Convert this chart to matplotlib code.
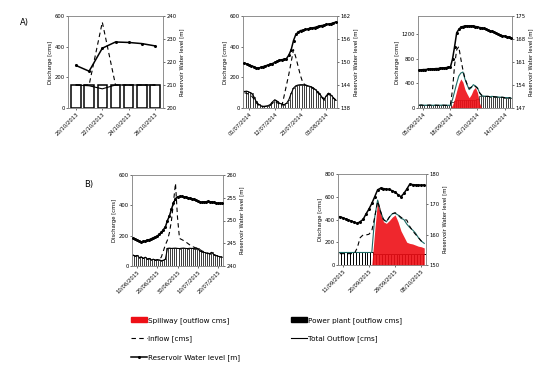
import numpy as np
import matplotlib
matplotlib.use("Agg")
import matplotlib.pyplot as plt
from matplotlib.patches import Patch
from matplotlib.lines import Line2D

# ---- panel A1 (daily, 7 days) ----
a1_labels = ["20/10/2013", "22/10/2013", "24/10/2013", "26/10/2013"]
a1_ticks = [0, 2, 4, 6]
a1_power = [150, 150, 150, 150, 150, 150, 150]
a1_total = [150, 145, 125, 150, 150, 150, 150]
a1_inflow = [150, 150, 560, 150, 150, 150, 150]
a1_level = [218.5, 216.0, 226.0, 228.7, 228.5, 228.0, 227.0]

# ---- panel A2 ----
a2_labels = ["01/07/2014", "12/07/2014", "23/07/2014", "03/08/2014"]
a2_ticks = [2, 13, 24, 35]
a2_power = [108, 110, 104, 97, 75, 43, 25, 15, 11, 12, 15, 22, 40, 54, 45, 32, 25, 22, 30, 54,
            95, 130, 145, 150, 152, 152, 150, 146, 141, 135, 125, 110, 97, 75, 54, 80, 97, 85, 68, 54]
a2_total = [108, 110, 104, 97, 75, 43, 25, 15, 11, 12, 15, 22, 40, 54, 45, 32, 25, 22, 30, 54,
            95, 130, 145, 150, 152, 152, 150, 146, 141, 135, 125, 110, 97, 75, 54, 80, 97, 85, 68, 54]
a2_inflow = [100, 95, 90, 80, 60, 35, 20, 12, 8, 10, 12, 18, 30, 45, 35, 25, 11, 80, 150, 220,
             300, 380, 330, 270, 210, 165, 150, 145, 140, 130, 120, 105, 90, 70, 55, 75, 90, 80, 65, 50]
a2_level = [149.7, 149.5, 149.3, 149.0, 148.8, 148.5, 148.4, 148.6, 148.8, 149.0, 149.2, 149.4,
            149.6, 149.9, 150.2, 150.5, 150.6, 150.7, 150.9, 151.8, 153.2, 155.6, 157.2, 157.8,
            158.2, 158.3, 158.5, 158.6, 158.8, 158.9, 159.0, 159.2, 159.4, 159.5, 159.6, 159.8,
            159.9, 160.0, 160.2, 160.4]

# ---- panel A3 ----
a3_labels = ["05/09/2014", "18/09/2014", "01/10/2014", "14/10/2014"]
a3_ticks = [2, 15, 28, 41]
a3_power = [45, 48, 44, 46, 45, 47, 44, 45, 46, 44, 45, 47, 45, 44, 46, 45, 90, 120, 130, 130,
            130, 130, 130, 130, 130, 130, 130, 130, 150, 190, 195, 195, 190, 190, 185, 190, 185,
            180, 180, 175, 175, 170, 170, 168, 165]
a3_spill = [0, 0, 0, 0, 0, 0, 0, 0, 0, 0, 0, 0, 0, 0, 0, 0, 50, 150, 280, 400, 474, 420, 300, 230,
            167, 220, 300, 335, 250, 80, 0, 0, 0, 0, 0, 0, 0, 0, 0, 0, 0, 0, 0, 0, 0]
a3_total = [45, 48, 44, 46, 45, 47, 44, 45, 46, 44, 45, 47, 45, 44, 46, 45, 140, 270, 400, 520,
            570, 586, 470, 380, 300, 330, 380, 360, 330, 250, 200, 195, 190, 190, 185, 190, 185,
            180, 180, 175, 175, 170, 170, 168, 165]
a3_inflow = [45, 48, 44, 46, 45, 47, 44, 45, 46, 44, 45, 47, 45, 44, 46, 60, 300, 700, 950, 1000,
             800, 620, 480, 390, 320, 340, 370, 350, 320, 250, 210, 195, 190, 190, 185, 190, 185,
             180, 180, 175, 175, 170, 170, 168, 165]
a3_level = [158.5, 158.6, 158.7, 158.7, 158.8, 158.8, 158.9, 158.9, 159.0, 159.0, 159.1, 159.2,
            159.2, 159.3, 159.4, 159.5, 161.9, 165.7, 169.9, 170.9, 171.6, 171.8, 172.0, 172.0,
            172.0, 172.0, 172.0, 171.8, 171.7, 171.5, 171.4, 171.2, 171.0, 170.8, 170.5, 170.3,
            170.0, 169.7, 169.4, 169.2, 169.0, 168.9, 168.7, 168.6, 168.4]

# ---- panel B1 ----
b1_labels = ["10/06/2015", "20/06/2015", "30/06/2015", "10/07/2015", "20/07/2015"]
b1_ticks = [2, 12, 22, 32, 42]
b1_power = [72, 65, 70, 55, 60, 50, 58, 45, 50, 40, 45, 38, 42, 40, 35, 38, 45, 116, 118, 116,
            117, 118, 116, 115, 117, 118, 116, 115, 117, 116, 115, 114, 116, 100, 95, 90, 88, 83,
            80, 90, 75, 70, 65, 62, 60]
b1_total = [72, 65, 70, 55, 60, 50, 58, 45, 50, 40, 45, 38, 42, 40, 35, 38, 45, 116, 118, 116,
            117, 118, 116, 115, 117, 118, 116, 115, 117, 116, 115, 114, 116, 100, 95, 90, 88, 83,
            80, 90, 75, 70, 65, 62, 60]
b1_inflow = [70, 65, 68, 55, 58, 50, 55, 45, 48, 40, 44, 38, 42, 40, 60, 100, 140, 171, 220, 300,
             420, 545, 320, 182, 175, 168, 160, 150, 140, 130, 125, 120, 118, 110, 100, 95, 90, 85,
             82, 88, 76, 70, 66, 62, 60]
b1_level = [246.1, 245.9, 245.7, 245.5, 245.3, 245.4, 245.5, 245.7, 245.8, 246.0, 246.2, 246.4,
            246.6, 247.0, 247.4, 248.0, 248.6, 250.0, 251.0, 252.5, 253.8, 254.8, 255.2, 255.3,
            255.3, 255.2, 255.2, 255.0, 254.9, 254.8, 254.7, 254.4, 254.2, 254.1, 254.0, 254.1,
            254.1, 254.2, 254.1, 254.1, 254.0, 253.9, 253.8, 253.8, 253.8]

# ---- panel B2 ----
b2_labels = ["11/09/2015", "20/09/2015", "29/09/2015", "08/10/2015"]
b2_ticks = [1, 10, 19, 28]
b2_power = [110, 110, 110, 110, 110, 110, 110, 110, 110, 110, 110, 110, 100, 100, 100, 100, 100,
            100, 100, 100, 100, 100, 100, 100, 100, 100, 100, 100, 100, 100]
b2_spill = [0, 0, 0, 0, 0, 0, 0, 0, 0, 0, 0, 0, 300, 571, 480, 380, 366, 390, 420, 440, 380, 300,
            250, 200, 190, 185, 175, 165, 160, 150]
b2_total = [110, 110, 110, 110, 110, 110, 110, 110, 110, 110, 110, 110, 420, 571, 470, 400, 380,
            420, 450, 454, 440, 410, 400, 360, 330, 308, 280, 240, 210, 190]
b2_inflow = [100, 100, 100, 100, 100, 100, 150, 240, 264, 264, 270, 300, 420, 560, 470, 400, 380,
             420, 450, 460, 440, 420, 400, 395, 340, 300, 270, 240, 210, 190]
b2_level = [165.9, 165.6, 165.2, 164.8, 164.5, 164.1, 163.7, 164.3, 165.0, 166.8, 168.4, 170.3,
            172.5, 174.8, 175.3, 175.2, 175.0, 174.9, 174.5, 174.0, 173.2, 172.5, 173.6, 175.0,
            176.6, 176.5, 176.4, 176.4, 176.3, 176.4]

RED = "#ee0f16"
TEAL = "#1d6b66"
FS = 3.8


def draw_panel(rect, power, total, inflow, level, spill, yl, ytl, yr, ytr, ticks, labels,
               bar_w=1.0, bar_lw=0.45, total_color="black"):
    ax = fig.add_axes(rect)
    x = np.arange(len(power))
    ax.bar(x, power, width=bar_w, color="white", edgecolor="black", linewidth=bar_lw, zorder=2)
    if spill is not None:
        ax.fill_between(x, 0, spill, color=RED, alpha=0.9, linewidth=0, zorder=3)
    ax.plot(x, total, color=total_color, lw=0.8, zorder=4)
    ax.plot(x, inflow, color="black", lw=0.8, ls=(0, (4, 3)), zorder=4)
    ax.set_ylim(*yl)
    ax.set_yticks(ytl)
    ax.set_xlim(-0.6, len(power) - 0.4)
    ax.set_xticks(ticks)
    ax.set_xticklabels(labels, rotation=45, ha="right", rotation_mode="anchor", fontsize=FS)
    ax.tick_params(axis="y", labelsize=FS, length=1.5, width=0.4, pad=1)
    ax.tick_params(axis="x", length=1.5, width=0.4, pad=1)
    ax.set_ylabel("Discharge [cms]", fontsize=FS, labelpad=1)
    for s in ax.spines.values():
        s.set_linewidth(0.5)
        s.set_color("#888888")
    ax2 = ax.twinx()
    ax2.plot(x, level, color="black", lw=1.1, marker="o", ms=1.2, zorder=5)
    ax2.set_ylim(*yr)
    ax2.set_yticks(ytr)
    ax2.tick_params(axis="y", labelsize=FS, length=1.5, width=0.4, pad=1)
    ax2.set_ylabel("Reservoir Water level [m]", fontsize=FS, labelpad=2)
    for s in ax2.spines.values():
        s.set_linewidth(0.5)
        s.set_color("#888888")
    return ax


W, H = 545, 372
fig = plt.figure(figsize=(W / 100, H / 100), dpi=100)


def px(x0, y0, x1, y1):
    return [x0 / W, 1 - y1 / H, (x1 - x0) / W, (y1 - y0) / H]


draw_panel(px(68, 16, 163, 108), a1_power, a1_total, a1_inflow, a1_level, None,
           (0, 600), [0, 200, 400, 600], (200, 240), [200, 210, 220, 230, 240],
           a1_ticks, a1_labels, bar_w=0.7, bar_lw=1.1)
draw_panel(px(243, 16, 337, 108), a2_power, a2_total, a2_inflow, a2_level, None,
           (0, 600), [0, 200, 400, 600], (138, 162), [138, 144, 150, 156, 162],
           a2_ticks, a2_labels)
draw_panel(px(418, 16, 512, 108), a3_power, a3_total, a3_inflow, a3_level, a3_spill,
           (0, 1500), [0, 400, 800, 1200], (147, 175), [147, 154, 161, 168, 175],
           a3_ticks, a3_labels, total_color=TEAL)
draw_panel(px(132, 175, 223, 266), b1_power, b1_total, b1_inflow, b1_level, None,
           (0, 600), [0, 200, 400, 600], (240, 260), [240, 245, 250, 255, 260],
           b1_ticks, b1_labels)
draw_panel(px(338, 174, 426, 265), b2_power, b2_total, b2_inflow, b2_level, b2_spill,
           (0, 800), [0, 200, 400, 600, 800], (150, 180), [150, 160, 170, 180],
           b2_ticks, b2_labels, bar_lw=0.7, total_color=TEAL)

fig.text(20 / W, 1 - 22 / H, "A)", fontsize=6, ha="left", va="center")
fig.text(84 / W, 1 - 185 / H, "B)", fontsize=6, ha="left", va="center")

handles = [
    Patch(facecolor=RED, edgecolor=RED, label="Spillway [outflow cms]"),
    Line2D([0], [0], color="black", lw=0.8, ls=(0, (4, 3)), label="Inflow [cms]"),
    Line2D([0], [0], color="black", lw=1.1, marker="o", ms=1.2, label="Reservoir Water level [m]"),
    Patch(facecolor="black", edgecolor="black", label="Power plant [outflow cms]"),
    Line2D([0], [0], color="black", lw=0.8, label="Total Outflow [cms]"),
]
fig.legend(handles=handles, ncol=2, loc="upper left", bbox_to_anchor=(131 / W, 1 - 317 / H),
           frameon=False, fontsize=5.2, handlelength=2.2, handleheight=0.6, handletextpad=0.2,
           columnspacing=7.0, labelspacing=1.65, borderaxespad=0, borderpad=0)

fig.savefig("out.png", dpi=100)
